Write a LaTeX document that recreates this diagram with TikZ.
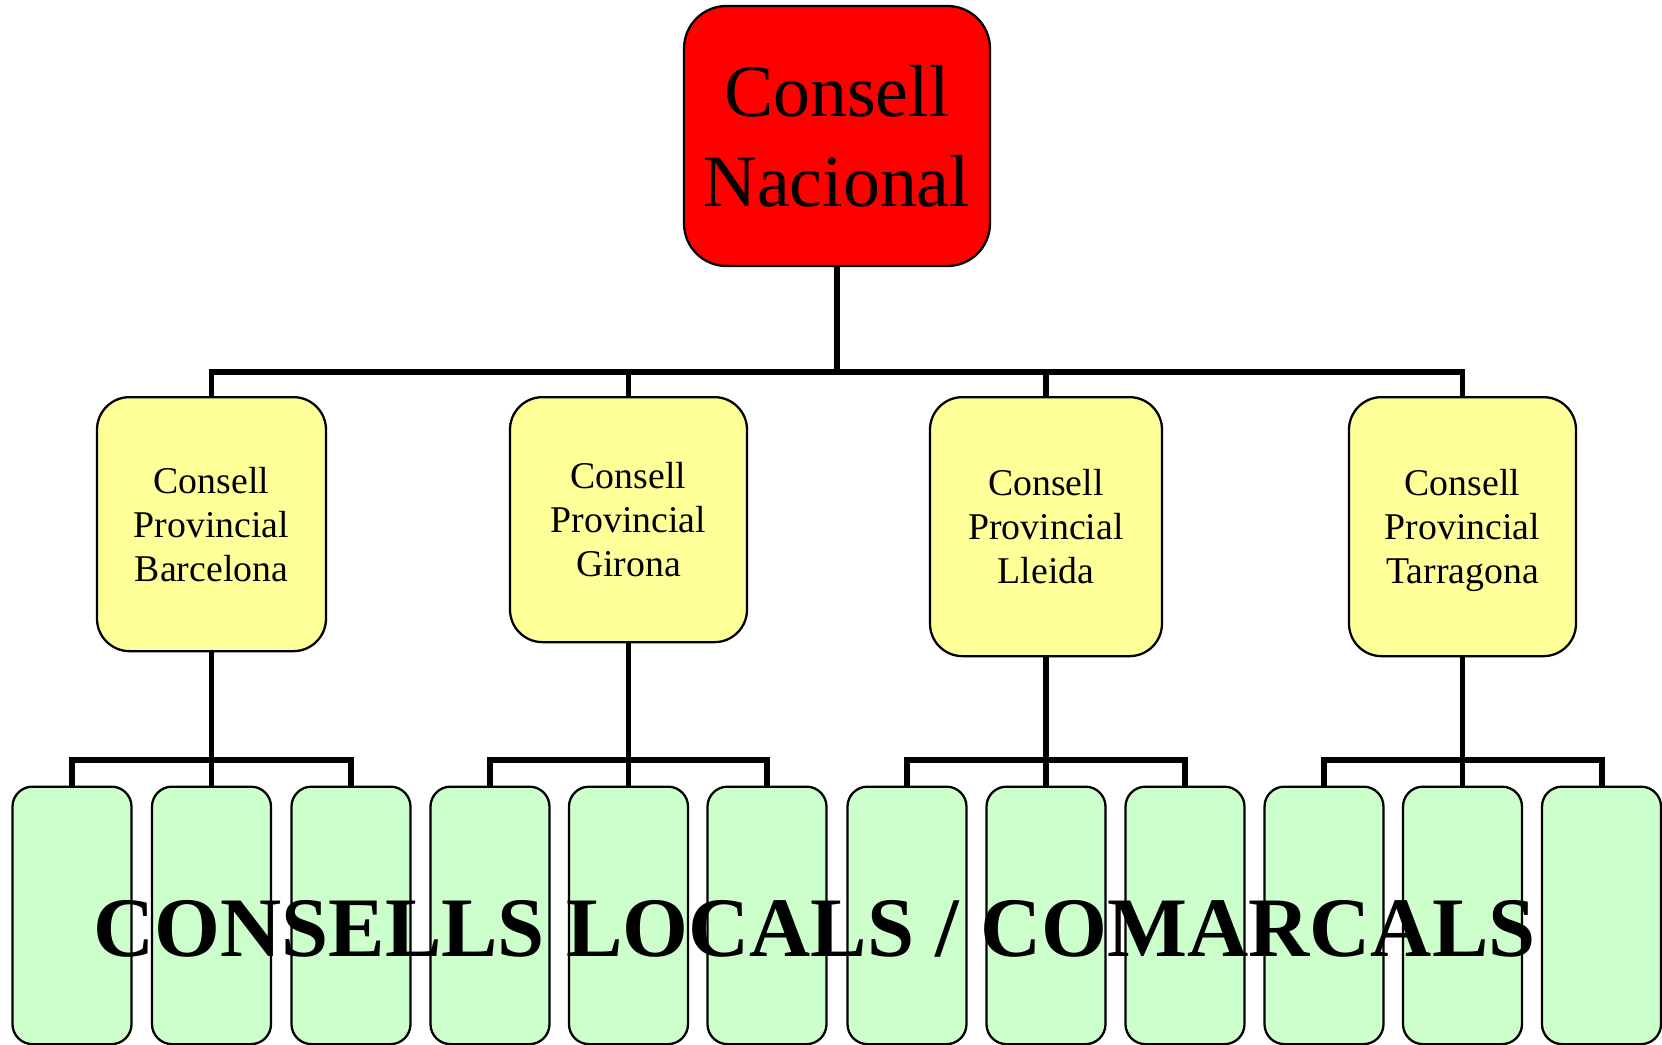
\documentclass[tikz,border=0pt]{standalone}
\usepackage{fontspec}
\setmainfont{Liberation Serif}
\usepackage{tikz}
\usetikzlibrary{positioning,calc}
\definecolor{nacred}{RGB}{255,0,0}
\definecolor{provyellow}{RGB}{255,255,153}
\definecolor{localgreen}{RGB}{204,255,204}

\tikzset{
    nacbox/.style={draw, line width=1.3pt, fill=nacred, rounded corners=0.85cm,
        minimum width=6.12cm, minimum height=5.2cm, align=center,
        font=\fontsize{42pt}{51pt}\selectfont},
    provbox/.style={draw, line width=1.3pt, fill=provyellow, rounded corners=0.65cm,
        anchor=north, align=center, font=\fontsize{21.5pt}{25pt}\selectfont},
    localbox/.style={draw, line width=1.3pt, fill=localgreen, rounded corners=0.4cm,
        anchor=north, minimum width=2.38cm, minimum height=5.15cm},
    link/.style={line width=3.4pt}
}

\begin{document}
\begin{tikzpicture}
    \useasboundingbox (0,0) rectangle (33.24,-20.9);

    % Bus levels
    \coordinate (highbus) at (0,-7.44);
    \coordinate (lowbus) at (0,-15.2);

    % National council
    \node[nacbox] (nacional) at (16.74,-2.72) {Consell\\Nacional};

    % Provincial councils
    \node[provbox, minimum width=4.58cm, minimum height=5.08cm] (bcn) at (4.23,-7.92) {Consell\\Provincial\\Barcelona};
    \node[provbox, minimum width=4.74cm, minimum height=4.9cm] (gir) at (12.57,-7.92) {Consell\\Provincial\\Girona};
    \node[provbox, minimum width=4.64cm, minimum height=5.18cm] (lle) at (20.92,-7.92) {Consell\\Provincial\\Lleida};
    \node[provbox, minimum width=4.54cm, minimum height=5.18cm, text height=2.45cm] (tar) at (29.25,-7.92) {Consell\\Provincial\\Tarragona};

    % Local councils
    \node[localbox] (bcn1) at (1.44,-15.71) {};
    \node[localbox] (bcn2) at (4.23,-15.71) {};
    \node[localbox] (bcn3) at (7.02,-15.71) {};
    \node[localbox] (gir1) at (9.80,-15.71) {};
    \node[localbox] (gir2) at (12.57,-15.71) {};
    \node[localbox] (gir3) at (15.34,-15.71) {};
    \node[localbox] (lle1) at (18.14,-15.71) {};
    \node[localbox] (lle2) at (20.92,-15.71) {};
    \node[localbox] (lle3) at (23.70,-15.71) {};
    \node[localbox] (tar1) at (26.48,-15.71) {};
    \node[localbox] (tar2) at (29.25,-15.71) {};
    \node[localbox] (tar3) at (32.03,-15.71) {};

    % Upper connectors
    \draw[link] (nacional.south) -- (nacional.south |- highbus);
    \draw[link] (bcn.north) -- (bcn.north |- highbus) -- (tar.north |- highbus) -- (tar.north);
    \draw[link] (gir.north) -- (gir.north |- highbus);
    \draw[link] (lle.north) -- (lle.north |- highbus);

    % Lower connectors
    \draw[link] (bcn.south) -- (bcn2.north);
    \draw[link] (bcn1.north) -- (bcn1.north |- lowbus) -- (bcn3.north |- lowbus) -- (bcn3.north);
    \draw[link] (gir.south) -- (gir2.north);
    \draw[link] (gir1.north) -- (gir1.north |- lowbus) -- (gir3.north |- lowbus) -- (gir3.north);
    \draw[link] (lle.south) -- (lle2.north);
    \draw[link] (lle1.north) -- (lle1.north |- lowbus) -- (lle3.north |- lowbus) -- (lle3.north);
    \draw[link] (tar.south) -- (tar2.north);
    \draw[link] (tar1.north) -- (tar1.north |- lowbus) -- (tar3.north |- lowbus) -- (tar3.north);

    % Caption over the local boxes
    \node[anchor=base, inner sep=0pt, font=\fontsize{48.2pt}{56pt}\selectfont\bfseries] (locals) at (16.29,-19.12) {CONSELLS LOCALS / COMARCALS};
\end{tikzpicture}
\end{document}
